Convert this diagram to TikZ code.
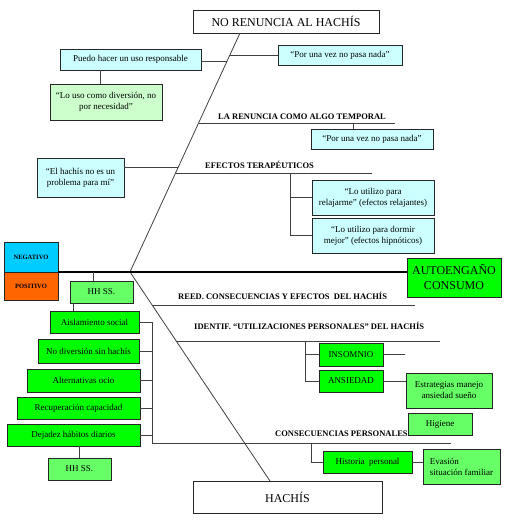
\documentclass[tikz,border=0pt]{standalone}
\usepackage{fontspec}
\setmainfont{Liberation Serif}
\usepackage{tikz}
\usetikzlibrary{calc,fit,positioning}

\definecolor{negblue}{HTML}{00CCFF}
\definecolor{posorange}{HTML}{FF6600}
\definecolor{palecyan}{HTML}{CCFFFF}
\definecolor{palegreen}{HTML}{CCFFCC}
\definecolor{midgreen}{HTML}{66FF66}
\definecolor{limegreen}{HTML}{00FF00}
\definecolor{linegray}{HTML}{404040}

\newcommand{\boxfont}{\fontsize{9}{11}\selectfont}
\newcommand{\headfont}{\fontsize{8.5}{10}\selectfont\bfseries}
\newcommand{\titlefont}{\fontsize{12}{15}\selectfont}
\newcommand{\signfont}{\fontsize{6.5}{8}\selectfont\bfseries}

\begin{document}
\begin{tikzpicture}[x=1pt,y=-1pt, every fit/.style={inner sep=0pt, outer sep=0pt},
	box/.style={draw=black!85, line width=0.9pt},
	every label/.style={font=\boxfont, align=center, inner sep=0pt},
	conn/.style={draw=linegray, line width=0.8pt},
	head/.style={font=\headfont, inner sep=0pt, anchor=base west},
	spine/.style={draw=black, line width=2.6pt}]

			\useasboundingbox (0,0) rectangle (505,520);

			% upper half
			\node [box, fill=white, fit={(193,10) (379,33)}, label={[font=\titlefont]center:{NO RENUNCIA AL HACHÍS}}] (norenuncia) {};
			\node [box, fill=palecyan, fit={(278,45) (402,65)}, label=center:{“Por una vez no pasa nada”}] (porvez1) {};
			\node [box, fill=palecyan, fit={(60,49) (201,70)}, label=center:{Puedo hacer un uso responsable}] (puedo) {};
			\node [box, fill=palegreen, fit={(50,84) (162,120)}, label=center:{“Lo uso como diversión, no\\por necesidad”}] (louso) {};
			\node [box, fill=palecyan, fit={(311,129) (433,149)}, label=center:{“Por una vez no pasa nada”}] (porvez2) {};
			\node [box, fill=palecyan, fit={(37,158) (124,197)}, label=center:{“El hachís no es un\\problema para mí”}] (nohay) {};
			\node [box, fill=palecyan, fit={(312,180) (434,215)}, label=center:{“Lo utilizo para\\relajarme” (efectos relajantes)}] (relaj) {};
			\node [box, fill=palecyan, fit={(312,218) (434,253)}, label=center:{“Lo utilizo para dormir\\mejor” (efectos hipnóticos)}] (dormir) {};

			% spine
			\node [box, fill=negblue, fit={(4,242) (58,272)}, label={[font=\signfont]center:{NEGATIVO}}] (neg) {};
			\node [box, fill=posorange, fit={(4,272) (58,300)}, label={[font=\signfont]center:{POSITIVO}}] (pos) {};
			\node [box, fill=limegreen, fit={(407,258) (501,297)}, label={[font=\titlefont]center:{AUTOENGAÑO\\CONSUMO}}] (auto) {};

			% lower half
			\node [box, fill=midgreen, fit={(70,281) (133,303)}, label=center:{HH SS.}] (hhss1) {};
			\node [box, fill=limegreen, fit={(50,311) (139,333)}, label=center:{Aislamiento social}] (aisla) {};
			\node [box, fill=limegreen, fit={(38,339) (139,363)}, label=center:{No diversión sin hachís}] (nodiv) {};
			\node [box, fill=limegreen, fit={(27,369) (140,392)}, label=center:{Alternativas ocio}] (altern) {};
			\node [box, fill=limegreen, fit={(17,397) (140,419)}, label=center:{Recuperación capacidad}] (recup) {};
			\node [box, fill=limegreen, fit={(7,424) (140,446)}, label=center:{Dejadez hábitos diarios}] (dejad) {};
			\node [box, fill=midgreen, fit={(48,458) (111,480)}, label=center:{HH SS.}] (hhss2) {};

			\node [box, fill=limegreen, fit={(319,343) (383,366)}, label=center:{INSOMNIO}] (insom) {};
			\node [box, fill=limegreen, fit={(319,370) (383,392)}, label=center:{ANSIEDAD}] (ansie) {};
			\node [box, fill=midgreen, fit={(406,373) (492,408)}, label=center:{Estrategias manejo\\ansiedad sueño}] (estrat) {};
			\node [box, fill=limegreen, fit={(323,451) (412,473)}, label=center:{Historia\ \ personal}] (hist) {};
			\node [box, fill=midgreen, fit={(423,449) (500,484)}, label={[align=left]center:{Evasión\\situación familiar}}] (evas) {};
			\node [box, fill=white, fit={(193,481) (382,513)}, label={[font=\titlefont]center:{HACHÍS}}] (hachis) {};

			% headings
			\node [head] (lare) at (218,119) {LA RENUNCIA COMO ALGO TEMPORAL};
			\node [head] (efec) at (205,168) {EFECTOS TERAPÉUTICOS};
			\node [head] (reed) at (178,299) {REED. CONSECUENCIAS Y EFECTOS\ \ DEL HACHÍS};
			\node [head] (ident) at (194,329) {IDENTIF. “UTILIZACIONES PERSONALES” DEL HACHÍS};
			\node [head] (consec) at (275,436) {CONSECUENCIAS PERSONALES};
			\node [box, fill=midgreen, fit={(408,413) (472,435)}, label=center:{Higiene}] (higiene) {};

			% the two diagonals
			\coordinate (hub) at (130,272);
			\coordinate (uptip) at ([xshift=47pt]norenuncia.south west);
			\coordinate (lowtip) at ([xshift=77pt]hachis.north west);
			\draw [conn] (uptip) -- (hub) -- (lowtip);
			\draw [spine] (neg.south east) -- (neg.south east -| auto.west);

			\coordinate (u1) at ($(hub)!0.908!(uptip)$);
			\coordinate (u2) at ($(hub)!0.881!(uptip)$);
			\coordinate (u3) at ($(hub)!0.623!(uptip)$);
			\coordinate (u4) at ($(hub)!0.439!(uptip)$);
			\coordinate (u5) at ($(hub)!0.414!(uptip)$);
			\coordinate (l1) at ($(hub)!0.158!(lowtip)$);
			\coordinate (l2) at ($(hub)!0.330!(lowtip)$);

			\coordinate (lareend) at (395,123);
			\coordinate (efecend) at (372,173);
			\coordinate (reedend) at (415,305);
			\coordinate (identend) at (440,341);
			\coordinate (consecend) at (451,443);
			\coordinate (insend) at (405,355);

			% branches
			\draw [conn] (u1) -- (u1 -| porvez1.west);
			\draw [conn] (u2) -- (u2 -| puedo.east);
			\draw [conn] (louso.north) ++(-6,0) coordinate (p1) -- (p1 |- puedo.south);
			\draw [conn] (u3) -- (u3 -| lareend);
			\draw [conn] (porvez2.north) ++(-19,0) coordinate (p2) -- (p2 |- lareend);
			\draw [conn] (u4) -- (u4 -| nohay.east);
			\draw [conn] (u5) -- (u5 -| efecend);
			\coordinate (v2) at (290,173);
			\draw [conn] (v2) |- (relaj.west);
			\draw [conn] (v2) |- (dormir.west);

			\draw [conn] (hhss1.north) ++(-8,0) coordinate (p3) -- (p3 |- hub);
			\draw [conn] (hhss1.south west) ++(3,0) coordinate (p4) -- (p4 |- aisla.north);
			\draw [conn] (hhss2.north) -- (hhss2.north |- dejad.south);
			\coordinate (brk) at (152,443);
			\draw [conn] (aisla.east) -| (brk) -- (consecend);
			\foreach \n in {nodiv,altern,recup,dejad}
				\draw [conn] (\n.east) -- (\n.east -| brk);

			\draw [conn] (l1) -- (l1 -| reedend);
			\draw [conn] (l2) -- (l2 -| identend);
			\coordinate (v3) at (305,341);
			\draw [conn] (v3) |- (insom.west);
			\draw [conn] (v3) |- (ansie.west);
			\draw [conn] (insom.east) -- (insom.east -| insend);
			\draw [conn] (ansie.east) -- (ansie.east -| estrat.west);
			\coordinate (v4) at (311,443);
			\draw [conn] (v4) |- (hist.west);
			\draw [conn] (hist.east) -- (hist.east -| evas.west);
		\end{tikzpicture}
\end{document}
